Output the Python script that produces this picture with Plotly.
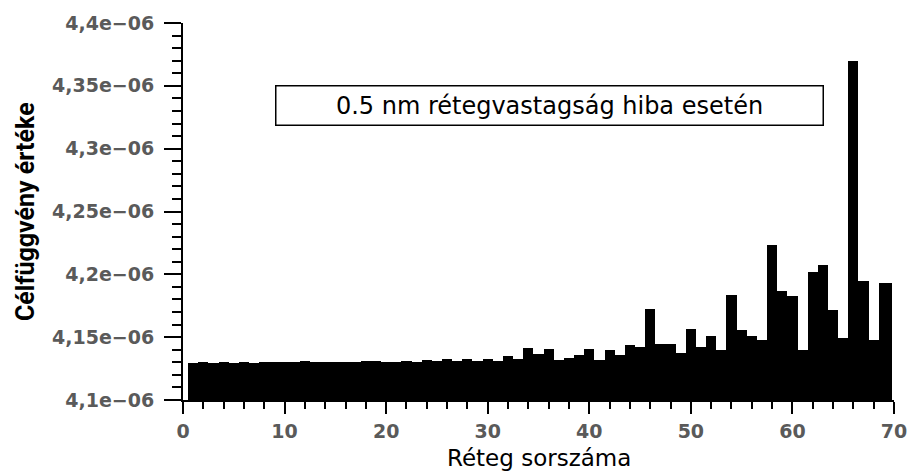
import plotly.graph_objects as go

# Layer index (Réteg sorszáma)
layers = list(range(1, 70))
# Objective function value, in units of 1e-6
values_e6 = [
    4.1291, 4.1299, 4.1294, 4.1299, 4.1294, 4.1299, 4.1291, 4.1299, 4.1299, 4.1299,
    4.1299, 4.1310, 4.1299, 4.1299, 4.1299, 4.1299, 4.1299, 4.1310, 4.1310, 4.1304,
    4.1299, 4.1310, 4.1299, 4.1320, 4.1312, 4.1330, 4.1312, 4.1326, 4.1312, 4.1328,
    4.1312, 4.1349, 4.1330, 4.1414, 4.1367, 4.1404, 4.1320, 4.1338, 4.1357, 4.1404,
    4.1318, 4.1398, 4.1357, 4.1435, 4.1425, 4.1728, 4.1447, 4.1442, 4.1377, 4.1564,
    4.1424, 4.1507, 4.1396, 4.1833, 4.1560, 4.1507, 4.1474, 4.2236, 4.1864, 4.1825,
    4.1396, 4.2015, 4.2075, 4.1720, 4.1494, 4.3700, 4.1950, 4.1474, 4.1931,
]
values = [v * 1e-6 for v in values_e6]

y_tickvals = [4.10e-6, 4.15e-6, 4.20e-6, 4.25e-6, 4.30e-6, 4.35e-6, 4.40e-6]
y_ticktext = ["4,1e\u221206", "4,15e\u221206", "4,2e\u221206", "4,25e\u221206",
              "4,3e\u221206", "4,35e\u221206", "4,4e\u221206"]
x_tickvals = [0, 10, 20, 30, 40, 50, 60, 70]
x_ticktext = ["0", "10", "20", "30", "40", "50", "60", "70"]

label_text = "0.5 nm rétegvastagság hiba esetén"
x_title = "Réteg sorszáma"
y_title = "Célfüggvény értéke"

# bar widths: the last box reaches the end of the axis
bar_widths = [1.0] * (len(layers) - 1) + [1.35]

fig = go.Figure()
fig.add_trace(go.Bar(
    x=layers, y=values, width=bar_widths, offset=-0.5,
    marker=dict(color="black", line=dict(width=0)),
    showlegend=False,
))

tick_font = dict(family="DejaVu Sans", size=19, color="#5a5a5a", weight="bold")

fig.update_layout(
    width=919, height=471,
    margin=dict(l=183, r=16, t=16, b=71),
    plot_bgcolor="white", paper_bgcolor="white",
    bargap=0,
    xaxis=dict(
        range=[0, 70], tickvals=x_tickvals, ticktext=x_ticktext,
        showline=True, linecolor="black", linewidth=2, mirror=False,
        ticks="outside", ticklen=12, tickwidth=2, tickcolor="black",
        minor=dict(dtick=2, ticks="outside", ticklen=7, tickwidth=2, tickcolor="black", showgrid=False),
        showgrid=False, zeroline=False,
        tickfont=tick_font, ticklabelstandoff=1,
    ),
    yaxis=dict(
        range=[4.1e-6, 4.4e-6], tickvals=y_tickvals, ticktext=y_ticktext,
        showline=True, linecolor="black", linewidth=2,
        ticks="outside", ticklen=17, tickwidth=2, tickcolor="black",
        minor=dict(dtick=0.01e-6, tick0=4.1e-6, ticks="outside", ticklen=9, tickwidth=2, tickcolor="black", showgrid=False),
        showgrid=False, zeroline=False,
        tickfont=tick_font, ticklabelstandoff=6,
    ),
    annotations=[
        dict(
            x=0.515, y=0.836, xref="paper", yref="paper",
            text=label_text, showarrow=False,
            width=536, height=28, align="center",
            font=dict(family="DejaVu Sans", size=24, color="black"),
            bordercolor="black", borderwidth=1.5, borderpad=5, bgcolor="white",
        ),
        dict(
            x=-0.2208, y=0.4987, xref="paper", yref="paper",
            text=y_title, showarrow=False, textangle=-90,
            xanchor="center", yanchor="middle",
            font=dict(family="Liberation Sans Narrow, Roboto, sans-serif", size=25,
                      color="black", weight="bold"),
        ),
        dict(
            x=0.5, y=-0.153, xref="paper", yref="paper",
            text=x_title, showarrow=False,
            xanchor="center", yanchor="middle",
            font=dict(family="DejaVu Sans", size=23, color="black"),
        ),
    ],
)

fig.write_html("out.html")
